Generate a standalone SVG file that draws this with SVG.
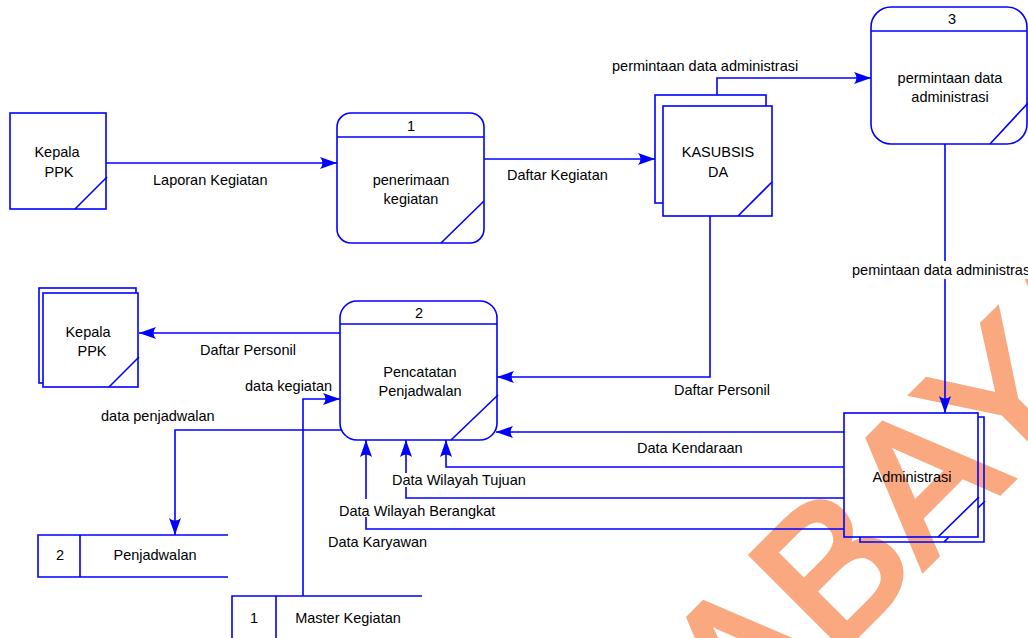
<svg xmlns="http://www.w3.org/2000/svg" width="1028" height="638" viewBox="0 0 1028 638">
  <style>
    .ln { fill: none; stroke: #0000FF; stroke-width: 1.6; }
    .box { fill: #FFFFFF; stroke: #0000FF; stroke-width: 1.6; }
    .flow { fill: none; stroke: #0000FF; stroke-width: 1.6; marker-end: url(#arr); }
    text { font-family: "Liberation Sans", Arial, sans-serif; font-size: 14.5px; fill: #000000; }
    .c { text-anchor: middle; }
    .wm { font-family: "Liberation Sans", Arial, sans-serif; font-size: 190px; fill: #F9A880; stroke: #F9A880; stroke-width: 6; stroke-linejoin: miter; }
  </style>
  <defs>
    <marker id="arr" viewBox="-18 -7 19 14" refX="0" refY="0" markerWidth="19" markerHeight="14" markerUnits="userSpaceOnUse" orient="auto">
      <path d="M0,0 L-17,-6 Q-12,0 -17,6 Z" fill="#0000FF"/>
    </marker>
  </defs>

  <!-- background watermark -->
  <g id="watermark">
    <text class="wm" transform="translate(744,748) rotate(-45)">ABAYA</text>
  </g>

  <!-- data flows -->
  <g id="connectors">
    <path class="flow" d="M106,163 H337"/>
    <path class="flow" d="M484,159 H655"/>
    <path class="flow" d="M717,95 V78 H871"/>
    <path class="flow" d="M945,144 V413"/>
    <path class="flow" d="M710,216 V377 H497"/>
    <path class="flow" d="M340,333 H139"/>
    <path class="flow" d="M303,596 V399 H340"/>
    <path class="flow" d="M342,430 H175 V535"/>
    <path class="flow" d="M844,432 H496"/>
    <path class="flow" d="M844,467 H446 V440"/>
    <path class="flow" d="M844,498 H406 V440"/>
    <path class="flow" d="M844,529 H366 V440"/>
  </g>

  <!-- flow labels -->
  <g id="labels">
    <text x="153" y="185">Laporan Kegiatan</text>
    <text x="507" y="180">Daftar Kegiatan</text>
    <text x="612" y="71">permintaan data administrasi</text>
    <rect x="850" y="261" width="178" height="18" fill="#FFFFFF"/>
    <text x="852" y="275">pemintaan data administrasi</text>
    <text x="674" y="395">Daftar Personil</text>
    <text x="200" y="355">Daftar Personil</text>
    <text x="245" y="391">data kegiatan</text>
    <text x="101" y="421">data penjadwalan</text>
    <text x="637" y="453">Data Kendaraan</text>
    <rect x="390" y="473" width="138" height="14" fill="#FFFFFF"/>
    <text x="392" y="485">Data Wilayah Tujuan</text>
    <rect x="337" y="499" width="162" height="18" fill="#FFFFFF"/>
    <text x="339" y="516">Data Wilayah Berangkat</text>
    <text x="328" y="547">Data Karyawan</text>
  </g>

  <!-- external entity: Kepala PPK -->
  <g id="kepala-ppk-1">
    <rect class="box" x="10" y="113" width="96" height="96"/>
    <path class="ln" d="M75,209 L107,177"/>
    <text class="c" x="57" y="157">Kepala</text>
    <text class="c" x="59" y="177">PPK</text>
  </g>

  <!-- process 1 -->
  <g id="proses-1">
    <rect class="box" x="337" y="113" width="147" height="130" rx="14"/>
    <path class="ln" d="M337,137 H484 M441,243 L484,201"/>
    <text class="c" x="411" y="131">1</text>
    <text class="c" x="411" y="185">penerimaan</text>
    <text class="c" x="411" y="204">kegiatan</text>
  </g>

  <!-- external entity: KASUBSIS DA (duplicated) -->
  <g id="kasubsis-da">
    <rect class="box" x="655" y="95" width="111" height="108"/>
    <rect class="box" x="663" y="106" width="109" height="110"/>
    <path class="ln" d="M738,216 L772,182"/>
    <text class="c" x="718" y="157">KASUBSIS</text>
    <text class="c" x="718" y="177">DA</text>
  </g>

  <!-- process 3 -->
  <g id="proses-3">
    <rect class="box" x="871" y="7" width="156" height="137" rx="20"/>
    <path class="ln" d="M871,31 H1027 M990,144 L1028,103"/>
    <text class="c" x="952" y="24">3</text>
    <text class="c" x="950" y="83">permintaan data</text>
    <text class="c" x="950" y="102">administrasi</text>
  </g>

  <!-- process 2 -->
  <g id="proses-2">
    <rect class="box" x="340" y="301" width="157" height="139" rx="17"/>
    <path class="ln" d="M340,324 H497 M451,440 L498,395"/>
    <text class="c" x="419" y="318">2</text>
    <text class="c" x="420" y="377">Pencatatan</text>
    <text class="c" x="420" y="396">Penjadwalan</text>
  </g>

  <!-- external entity: Kepala PPK (duplicated) -->
  <g id="kepala-ppk-2">
    <rect class="box" x="39" y="288" width="97" height="95"/>
    <rect class="box" x="43" y="293" width="95" height="94"/>
    <path class="ln" d="M109,387 L139,357"/>
    <text class="c" x="88" y="337">Kepala</text>
    <text class="c" x="92" y="356">PPK</text>
  </g>

  <!-- external entity: Administrasi (duplicated) -->
  <g id="administrasi">
    <path class="ln" d="M978,417 H984 V542 H860 V537 M944,542 L949,537 M978,508 L985,501"/>
    <rect class="ln" x="844" y="413" width="134" height="124"/>
    <path class="ln" d="M938,537 L979,497"/>
    <text class="c" x="912" y="482">Administrasi</text>
  </g>

  <!-- data store 2 -->
  <g id="store-2">
    <path class="ln" d="M228,535 H38 V577 H228 M80,535 V577"/>
    <text class="c" x="60" y="560">2</text>
    <text class="c" x="155" y="560">Penjadwalan</text>
  </g>

  <!-- data store 1 -->
  <g id="store-1">
    <path class="ln" d="M422,596 H232 V640 M276,596 V640"/>
    <text class="c" x="254" y="623">1</text>
    <text class="c" x="348" y="623">Master Kegiatan</text>
  </g>
</svg>
